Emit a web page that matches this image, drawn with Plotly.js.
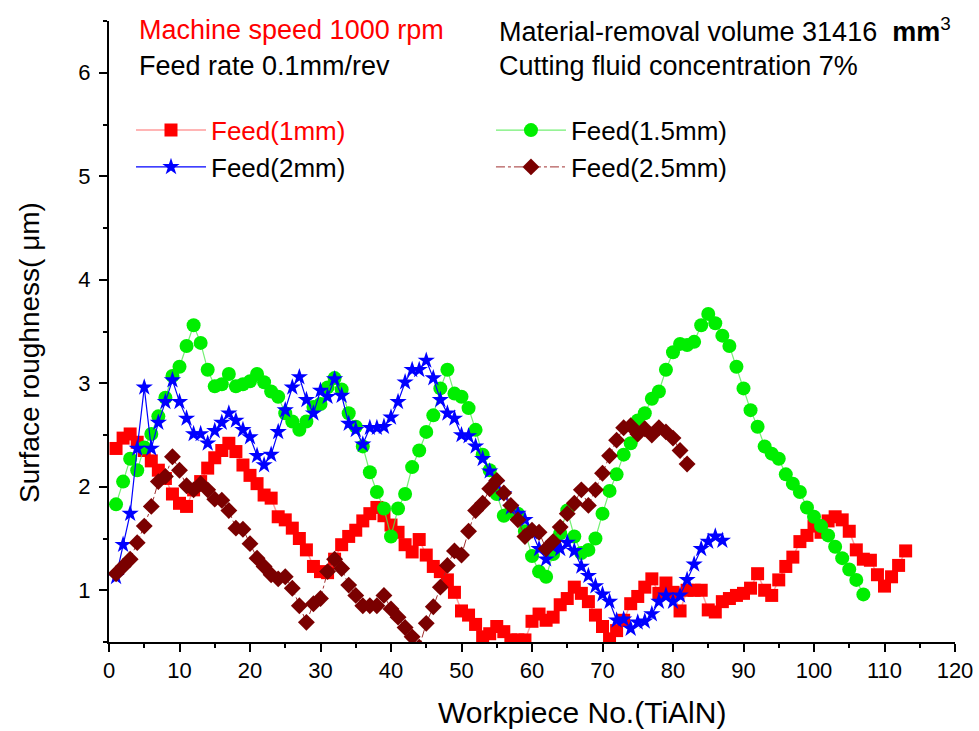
<!DOCTYPE html>
<html>
<head>
<meta charset="utf-8">
<script src="https://cdn.plot.ly/plotly-3.0.1.min.js"></script>
<style>html,body{margin:0;padding:0;background:#fff;}#chart{width:979px;height:731px;}</style>
</head>
<body>
<div id="chart"></div>
<script>
// Workpiece numbers for each series
const xFeed1 = Array.from({length: 113}, (_, i) => i + 1);
const xFeed15 = Array.from({length: 107}, (_, i) => i + 1);
const xFeed2 = Array.from({length: 87}, (_, i) => i + 1);
const xFeed25 = Array.from({length: 82}, (_, i) => i + 1);

// Surface roughness (um)
const feed1 = [2.37,2.47,2.51,2.43,2.35,2.25,2.16,2.08,1.93,1.84,
  1.81,1.97,2.05,2.18,2.28,2.35,2.42,2.34,2.21,2.11,
  2.03,1.92,1.89,1.71,1.68,1.60,1.50,1.39,1.23,1.18,
  1.17,1.30,1.44,1.52,1.58,1.67,1.74,1.80,1.72,1.63,
  1.56,1.44,1.37,1.49,1.34,1.23,1.18,1.10,0.98,0.80,
  0.76,0.67,0.55,0.58,0.65,0.60,0.52,0.52,0.52,0.70,
  0.77,0.71,0.74,0.86,0.92,1.03,0.97,0.89,0.76,0.65,
  0.53,0.61,0.71,0.87,0.94,1.03,1.11,0.97,1.07,0.98,
  0.80,1.00,1.00,1.00,0.81,0.79,0.89,0.92,0.95,0.97,
  1.02,1.16,1.00,0.95,1.10,1.23,1.32,1.47,1.53,1.62,
  1.56,1.67,1.71,1.68,1.57,1.39,1.30,1.29,1.15,1.04,
  1.13,1.24,1.38];
const feed15 = [1.83,2.05,2.27,2.16,2.38,2.51,2.68,2.86,3.07,3.16,
  3.36,3.56,3.39,3.13,2.97,2.99,3.09,2.97,2.99,3.02,
  3.09,3.01,2.92,2.87,2.71,2.63,2.55,2.63,2.77,2.80,
  2.96,3.05,2.94,2.71,2.58,2.39,2.14,1.95,1.79,1.52,
  1.79,1.93,2.19,2.35,2.53,2.69,2.95,3.13,2.90,2.87,
  2.76,2.55,2.31,2.16,1.93,1.72,1.76,1.74,1.57,1.33,
  1.18,1.13,1.35,1.55,1.77,1.52,1.36,1.39,1.50,1.74,
  1.96,2.12,2.31,2.42,2.64,2.71,2.85,2.92,3.13,3.30,
  3.38,3.37,3.40,3.56,3.67,3.58,3.46,3.36,3.16,2.95,
  2.74,2.58,2.39,2.32,2.27,2.12,2.03,1.95,1.80,1.71,
  1.62,1.53,1.42,1.31,1.20,1.10,0.96];
const feed2 = [1.13,1.44,1.74,2.37,2.96,2.37,2.62,2.82,3.03,2.82,
  2.66,2.51,2.51,2.42,2.54,2.62,2.71,2.64,2.55,2.48,
  2.30,2.21,2.31,2.53,2.74,2.96,3.06,2.84,2.71,2.93,
  2.87,3.04,2.88,2.61,2.55,2.41,2.57,2.57,2.58,2.67,
  2.82,3.01,3.13,3.13,3.22,3.05,2.84,2.71,2.66,2.50,
  2.49,2.39,2.27,2.15,2.03,1.93,1.80,1.74,1.68,1.56,
  1.40,1.30,1.42,1.40,1.46,1.38,1.23,1.14,1.04,0.96,
  0.89,0.71,0.72,0.63,0.69,0.70,0.77,0.89,0.95,0.89,
  0.95,1.10,1.25,1.40,1.47,1.52,1.48];
const feed25 = [1.16,1.23,1.30,1.46,1.62,1.81,2.05,2.10,2.29,2.16,
  2.01,1.97,2.03,1.97,1.88,1.87,1.77,1.60,1.59,1.45,
  1.31,1.23,1.15,1.11,1.13,1.02,0.85,0.69,0.87,0.92,
  1.18,1.30,1.21,1.05,0.95,0.85,0.85,0.85,0.95,0.82,
  0.74,0.64,0.55,0.45,0.68,0.84,1.03,1.24,1.38,1.34,
  1.57,1.77,1.84,1.98,2.06,1.94,1.82,1.68,1.52,1.58,
  1.56,1.40,1.47,1.61,1.74,1.84,1.97,1.82,1.97,2.13,
  2.30,2.45,2.57,2.59,2.51,2.56,2.50,2.57,2.53,2.47,
  2.35,2.22];

const seriesNames = ['<span style="color:#ff0000">Feed(1mm)</span>', 'Feed(1.5mm)', 'Feed(2mm)', 'Feed(2.5mm)'];
const xTickVals = [0,10,20,30,40,50,60,70,80,90,100,110,120];
const yTickVals = [1,2,3,4,5,6];

const FONT = 'Arial, "Liberation Sans", sans-serif';

const traces = [
  {x: xFeed1, y: feed1, name: seriesNames[0], type: 'scatter', mode: 'lines+markers', legend: 'legend',
   line: {color: 'rgba(255,90,90,0.6)', width: 1.5},
   marker: {symbol: 'square', size: 13, color: '#ff0000'}},
  {x: xFeed15, y: feed15, name: seriesNames[1], type: 'scatter', mode: 'lines+markers', legend: 'legend2',
   line: {color: 'rgba(80,235,80,0.8)', width: 1.2},
   marker: {symbol: 'circle', size: 14, color: '#00ee00'}},
  {x: xFeed2, y: feed2, name: seriesNames[2], type: 'scatter', mode: 'lines+markers', legend: 'legend',
   line: {color: '#0000ff', width: 1.2},
   marker: {symbol: 'star', size: 13, color: '#0000ff'}},
  {x: xFeed25, y: feed25, name: seriesNames[3], type: 'scatter', mode: 'lines+markers', legend: 'legend2',
   line: {color: '#a03030', width: 1, dash: 'dashdot'},
   marker: {symbol: 'diamond', size: 13, color: '#7a0000'}}
];

const legendCommon = {
  orientation: 'v', xanchor: 'left', yanchor: 'top', itemwidth: 70,
  font: {family: FONT, size: 26, color: '#000000'},
  bgcolor: 'rgba(0,0,0,0)', tracegroupgap: 0, traceorder: 'normal'
};

const layout = {
  width: 979, height: 731,
  margin: {l: 109, r: 24, t: 21, b: 89},
  paper_bgcolor: '#ffffff', plot_bgcolor: '#ffffff',
  font: {family: FONT, color: '#000000'},
  showlegend: true,
  legend: Object.assign({}, legendCommon, {x: 0.026, y: 0.862}),
  legend2: Object.assign({}, legendCommon, {x: 0.4515, y: 0.862}),
  xaxis: {
    range: [0, 120], tickvals: xTickVals, ticktext: xTickVals.map(String),
    showline: true, linecolor: '#000', linewidth: 2, mirror: false,
    ticks: 'outside', ticklen: 8, tickwidth: 2, tickcolor: '#000',
    minor: {dtick: 5, tick0: 0, ticks: 'outside', ticklen: 4, tickwidth: 2, tickcolor: '#000'},
    showgrid: false, zeroline: false,
    tickfont: {family: FONT, size: 22, color: '#000'}
  },
  yaxis: {
    range: [0.5, 6.5], tickvals: yTickVals, ticktext: yTickVals.map(String),
    showline: true, linecolor: '#000', linewidth: 2, mirror: false,
    ticks: 'outside', ticklen: 8, tickwidth: 2, tickcolor: '#000', ticklabelstandoff: 4,
    minor: {dtick: 0.5, tick0: 0.5, ticks: 'outside', ticklen: 4, tickwidth: 2, tickcolor: '#000'},
    showgrid: false, zeroline: false,
    tickfont: {family: FONT, size: 22, color: '#000'}
  },
  annotations: [
    {text: 'Workpiece No.(TiAlN)', x: 0.559, y: -0.114, xref: 'paper', yref: 'paper', xanchor: 'center', yanchor: 'middle', showarrow: false, font: {family: FONT, size: 30, color: '#000'}},
    {text: 'Surface roughness( \u03bcm)', x: -0.0934, y: 0.467, xref: 'paper', yref: 'paper', xanchor: 'center', yanchor: 'middle', textangle: -90, showarrow: false, font: {family: FONT, size: 28, color: '#000'}},
    {text: 'Machine speed 1000 rpm', x: 0.033, y: 0.985, xref: 'paper', yref: 'paper', xanchor: 'left', yanchor: 'middle', showarrow: false, font: {family: FONT, size: 27, color: '#ff0000'}},
    {text: 'Feed rate 0.1mm/rev', x: 0.033, y: 0.927, xref: 'paper', yref: 'paper', xanchor: 'left', yanchor: 'middle', showarrow: false, font: {family: FONT, size: 27, color: '#000'}},
    {text: 'Material-removal volume 31416  <b>mm</b><sup>3</sup>', x: 0.4586, y: 0.985, xref: 'paper', yref: 'paper', xanchor: 'left', yanchor: 'middle', showarrow: false, font: {family: FONT, size: 27, color: '#000'}},
    {text: 'Cutting fluid concentration 7%', x: 0.4586, y: 0.927, xref: 'paper', yref: 'paper', xanchor: 'left', yanchor: 'middle', showarrow: false, font: {family: FONT, size: 27, color: '#000'}}
  ]
};

Plotly.newPlot('chart', traces, layout, {displayModeBar: false, staticPlot: true});
</script>
</body>
</html>
